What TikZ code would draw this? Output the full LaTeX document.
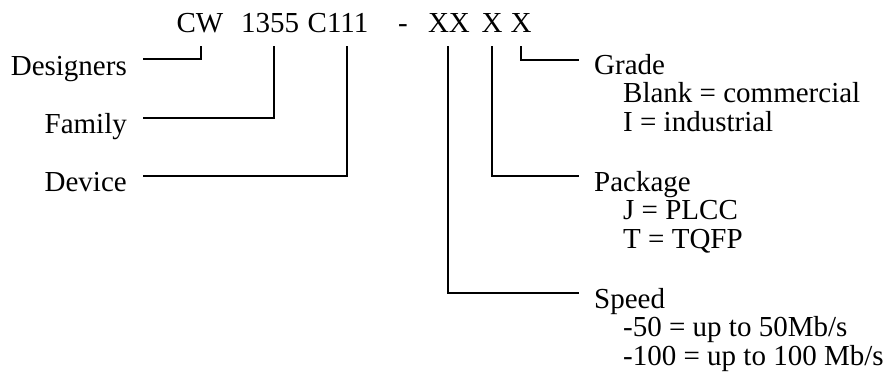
\documentclass[tikz,border=0pt]{standalone}
\usepackage{fontspec}
\setmainfont{Liberation Serif}
\usepackage{tikz}
\usetikzlibrary{positioning,calc}

\begin{document}
\begin{tikzpicture}[x=1pt,y=-1pt,
		txt/.style={font=\fontsize{29}{28.5}\selectfont, inner sep=0pt},
		lead/.style={line width=1.2pt}]
		\useasboundingbox (0,0) rectangle (889,375);

		\node[txt, anchor=base] (cw) at (200,32) {CW};
		\node[txt, anchor=base] (num) at (270,32) {1355};
		\node[txt, anchor=base] (chip) at (338,32) {C111};
		\node[txt, anchor=base] (dash) at (403,32) {-};
		\node[txt, anchor=base] (sp) at (449,32) {XX};
		\node[txt, anchor=base] (pk) at (492,32) {X};
		\node[txt, anchor=base] (gr) at (521,32) {X};

		\node[txt, anchor=base east] (designers) at (127,75) {Designers};
		\node[txt, anchor=base east] (family) at (127,133) {Family};
		\node[txt, anchor=base east] (device) at (127,191) {Device};

		\node[txt, anchor=base west] (grade) at (594,74) {Grade};
		\node[txt, anchor=base west] (blank) at (623,102.5) {Blank = commercial};
		\node[txt, anchor=base west] (indus) at (623,131) {I = industrial};

		\node[txt, anchor=base west] (package) at (594,191) {Package};
		\node[txt, anchor=base west] (plcc) at (623,219.5) {J = PLCC};
		\node[txt, anchor=base west] (tqfp) at (623,248) {T = TQFP};

		\node[txt, anchor=base west] (speed) at (594,308) {Speed};
		\node[txt, anchor=base west] (fifty) at (623,336.5) {-50 = up to 50Mb/s};
		\node[txt, anchor=base west] (hundred) at (623,365) {-100 = up to 100 Mb/s};

		\draw[lead] ([xshift=1pt,yshift=-14pt]cw.base) |- ([xshift=16pt,yshift=16pt]designers.base east);
		\draw[lead] ([xshift=4pt,yshift=-14pt]num.base) |- ([xshift=16pt,yshift=15pt]family.base east);
		\draw[lead] ([xshift=9pt,yshift=-14pt]chip.base) |- ([xshift=16pt,yshift=15pt]device.base east);

		\draw[lead] ([xshift=-1pt,yshift=-14pt]sp.base) |- ([xshift=-15pt,yshift=15pt]speed.base west);
		\draw[lead] ([yshift=-14pt]pk.base) |- ([xshift=-15pt,yshift=15pt]package.base west);
		\draw[lead] ([yshift=-14pt]gr.base) |- ([xshift=-15pt,yshift=14pt]grade.base west);
	\end{tikzpicture}
\end{document}
